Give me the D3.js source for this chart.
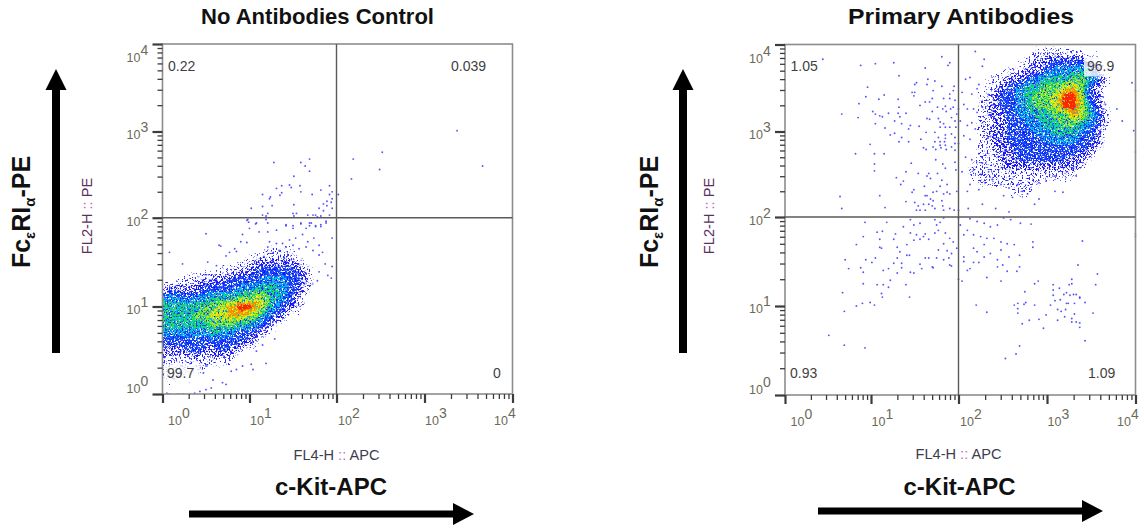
<!DOCTYPE html>
<html>
<head>
<meta charset="utf-8">
<style>
  html, body { margin: 0; background: #fff; }
  text { font-family: "Liberation Sans", Arial, sans-serif; }
</style>
<script src="https://cdn.jsdelivr.net/npm/d3@7"></script>
</head>
<body>
<script>
// density levels, 0 = empty ... 9 = red. Rows go upward, 0.1 decade per cell
const densityLeft = [
  "00000000000000000000",
  "00000000000000000000",
  "11100000000000000000",
  "11111100000000000000",
  "11111111100000000000",
  "22233223210000000000",
  "33333333332100000000",
  "44444454433210000000",
  "55555566655431000000",
  "55556677887643200000",
  "55555667899864321000",
  "44434455566765431000",
  "12222333344555432100",
  "00011222333344433100",
  "00000001122333332100",
  "00000000001222221000",
  "00000000000011110000"
];
const densityRight = [
  "00000000000000000000",
  "00000001100000000000",
  "00011111110000000000",
  "00111111111111000000",
  "00111122222222100000",
  "00011223333332210000",
  "00011223333333321000",
  "00012233334444332000",
  "00012233344555432000",
  "00011233445566543100",
  "00012234455668753100",
  "00012334566799742000",
  "00011334566799732000",
  "00001234556678631000",
  "00001122345556653100",
  "00000011223444542000",
  "00000000122333321000",
  "00000000011111100000"
];

// single events, as log10 of [FL4-H, FL2-H]
const eventsLeft = [
  [3.37,3.01],[3.66,2.60],[2.52,2.76],[2.19,2.68],[2.49,2.56],[2.17,2.45],[1.69,2.68],[1.59,2.64],[1.28,2.64],[1.64,2.60],
  [1.69,2.54],[1.51,2.48],[1.46,2.38],[1.58,2.37],[1.37,2.37],[1.48,2.35],[1.31,2.34],[1.92,2.37],[1.59,2.30],[1.82,2.32],
  [1.95,2.30],[2.02,2.27],[1.37,2.29],[1.35,2.26],[1.15,2.27],[1.24,2.24],[1.23,2.22],[1.72,2.27],[1.92,2.27],[1.95,2.22],
  [1.89,2.19],[1.94,2.18],[1.51,2.15],[1.26,2.14],[1.15,2.13],[1.02,2.11],[1.85,2.16],[1.89,2.14],[1.80,2.11],[1.85,2.08],
  [1.95,2.11],[1.50,2.05],[1.54,2.05],[1.15,2.03],[1.21,2.05],[1.19,2.02],[1.67,2.03],[1.73,2.03],[1.76,2.03],[1.82,2.02],
  [1.92,2.03],[1.51,2.02],[1.78,2.01],[0.97,1.97],[0.99,1.95],[1.07,1.93],[1.21,1.94],[1.69,1.94],[1.88,1.94],[1.59,1.93],
  [1.42,1.91],[1.50,1.91],[1.69,1.91],[1.76,1.91],[1.82,1.90],[0.98,1.98],[1.00,1.88],[0.50,1.82],[0.92,1.81],[1.08,1.94],
  [1.19,1.98],[1.11,1.84],[1.21,1.84],[1.31,1.86],[1.42,1.92],[1.50,1.88],[1.59,1.94],[1.65,1.88],[1.71,1.94],[1.76,1.90],
  [1.82,1.92],[1.88,1.96],[1.95,1.77],[0.90,1.73],[0.97,1.72],[0.65,1.69],[0.67,1.68],[0.83,1.65],[0.77,1.61],[0.85,1.62],
  [0.73,1.57],[0.08,1.61],[0.23,1.48],[0.52,1.50],[0.62,1.46],[1.23,1.73],[1.31,1.71],[1.38,1.71],[1.46,1.75],[1.53,1.77],
  [1.61,1.81],[1.67,1.73],[1.74,1.77],[1.80,1.69],[1.84,1.61],[1.21,1.67],[1.34,1.63],[1.42,1.67],[1.50,1.69],[1.57,1.65],
  [1.65,1.67],[1.73,1.63],[1.80,1.58],[1.87,1.48],[1.95,1.45],[1.90,1.35],[1.94,1.32],[1.80,1.39],[1.78,1.29],[1.19,0.35],
  [1.02,0.34],[1.04,0.28],[0.92,0.32],[0.85,0.28],[0.79,0.26],[0.73,0.11],[0.69,0.13],[0.58,0.16],[0.50,0.05],[0.43,0.03],
  [0.37,0.01],[0.56,0.07],[0.47,0.24],[0.50,0.32],[0.43,0.30],[0.31,0.13],[0.05,0.01],[0.08,0.00],[0.18,0.00],[0.24,0.00],
  [1.29,0.63],[1.15,0.56],[1.08,0.49]
];
const eventsRight = [
  // upper left quadrant
  [0.44,3.83],[0.88,3.76],[1.05,3.78],[1.26,3.79],[1.81,3.86],[1.90,3.79],[1.88,3.76],[1.62,3.73],[1.32,3.64],[0.96,3.51],
  [0.94,3.40],[0.86,3.32],[1.09,3.37],[1.15,3.42],[1.31,3.37],[0.66,3.20],[0.85,3.16],[1.02,3.23],[1.05,3.20],[1.10,3.18],
  [1.13,3.17],[1.20,3.21],[1.32,3.28],[1.31,3.21],[1.33,3.17],[1.40,3.21],[1.27,3.12],[1.05,3.09],[1.16,3.04],[1.35,3.09],
  [1.45,3.07],[1.43,3.03],[1.22,2.96],[1.27,2.98],[1.35,2.93],[1.32,2.88],[1.43,2.88],[0.99,2.85],[0.82,2.74],[1.04,2.74],
  [1.15,2.74],[1.04,2.62],[1.04,2.54],[1.46,2.63],[1.40,2.53],[1.29,2.46],[1.37,2.42],[1.34,2.38],[0.64,2.24],[0.66,2.10],
  [1.10,2.25],[1.16,2.11],[1.40,2.18],[1.47,2.29],[1.49,2.32],
  [1.47,3.45],[1.50,3.45],[1.49,3.41],[1.52,3.56],[1.50,3.54],[1.65,3.60],[1.64,3.54],[1.73,3.58],[1.81,3.52],[1.71,3.47],
  [1.70,3.38],[1.83,3.38],[1.90,3.43],[1.94,3.47],[1.95,3.52],[1.90,3.38],[1.96,3.36],[1.67,3.34],[1.62,3.34],[1.56,3.30],
  [1.76,3.28],[1.70,3.23],[1.82,3.26],[1.85,3.29],[1.86,3.23],[1.91,3.26],[1.94,3.28],[1.98,3.20],[1.64,3.15],[1.67,3.14],
  [1.77,3.15],[1.83,3.09],[1.79,3.11],[1.92,3.16],[1.96,3.12],[1.55,3.06],[1.63,2.99],[1.73,2.99],[1.79,3.05],[1.85,3.05],
  [1.90,3.05],[1.97,3.05],[1.85,2.96],[1.77,2.93],[1.92,2.97],[1.57,2.91],[1.85,2.92],[1.96,2.93],[1.73,2.88],[1.79,2.88],
  [1.84,2.88],[1.79,2.84],[1.85,2.84],[1.96,2.86],[1.71,2.82],[1.60,2.81],[1.63,2.79],[1.74,2.79],[1.80,2.81],[1.86,2.79],
  [1.92,2.82],[1.96,2.78],[1.74,2.67],[1.82,2.62],[1.85,2.57],[1.96,2.64],[1.97,2.55],[1.76,2.51],[1.66,2.51],[1.64,2.48],
  [1.54,2.51],[1.81,2.43],[1.87,2.38],[1.68,2.45],[1.61,2.36],[1.79,2.36],[1.75,2.30],[1.71,2.29],[1.64,2.25],[1.87,2.29],
  [1.90,2.27],[1.83,2.27],[1.98,2.30],[1.50,2.17],[1.54,2.13],[1.62,2.25],[1.68,2.21],[1.71,2.19],[1.81,2.19],[1.60,2.15],
  [1.66,2.15],[1.70,2.13],[1.82,2.13],[1.52,2.08],[1.56,2.08],[1.62,2.08],[1.73,2.10],[1.83,2.08],[1.90,2.10],[1.95,2.08],
  // lower left, around the gate
  [1.45,1.97],[1.56,1.93],[1.73,1.97],[1.79,1.94],[1.75,1.91],[1.83,1.99],[1.49,1.91],[1.62,1.81],[1.52,1.80],[1.60,1.78],
  [1.66,1.75],[1.56,1.75],[1.73,1.82],[1.77,1.85],[1.85,1.82],[1.90,1.76],[1.83,1.70],[1.77,1.63],[1.87,1.62],[1.94,1.72],
  [1.98,1.65],[1.92,1.59],[1.45,1.82],[1.37,1.89],[1.49,1.74],[1.41,1.69],[1.33,1.61],[1.41,1.57],[1.44,1.57],[1.62,1.54],
  [1.66,1.54],[1.75,1.54],[1.83,1.52],[1.89,1.54],[1.56,1.47],[1.58,1.42],[1.70,1.44],[1.71,1.43],[1.90,1.46],[1.92,1.45],
  [1.30,1.54],[1.26,1.48],[1.35,1.48],[1.35,1.43],[1.20,1.42],[1.14,1.40],[1.45,1.38],[1.49,1.37],[1.30,1.37],[1.22,1.29],
  [1.07,1.24],[1.14,1.24],[1.40,1.24],[1.20,1.21],[0.91,1.25],[1.12,1.14],[1.13,1.10],[1.44,1.10],[0.67,1.15],[0.69,0.94],
  [0.74,1.42],[0.70,1.52],[0.88,1.43],[0.91,1.38],[0.83,1.00],[0.90,1.03],[0.99,1.04],[1.04,1.01],[0.51,0.67],[0.69,0.56],
  [0.93,0.53],[0.93,1.94],[1.18,1.94],[1.07,1.83],[1.13,1.84],[0.91,1.78],[1.28,1.81],[1.10,1.75],[1.26,1.75],[0.83,1.69],
  [1.10,1.66],[1.12,1.65],[1.30,1.66],[0.94,1.52],[1.05,1.54],[1.01,1.49],
  // lower right, above the gate edge and the small population
  [2.00,1.99],[2.02,1.91],[2.06,1.80],[2.13,1.98],[2.21,1.95],[2.29,1.93],[2.36,1.89],[2.44,1.91],[2.51,1.99],[2.59,1.97],
  [2.70,1.93],[2.82,1.92],[2.10,1.85],[2.17,1.80],[2.25,1.78],[2.32,1.76],[2.40,1.76],[2.48,1.72],[2.55,1.70],[2.63,1.69],
  [2.84,1.72],[2.84,1.66],[2.17,1.65],[2.29,1.69],[2.21,1.61],[2.06,1.55],[2.36,1.59],[2.48,1.63],[2.57,1.55],[2.69,1.57],
  [2.06,1.50],[2.17,1.49],[2.23,1.49],[2.44,1.52],[2.29,1.55],[2.10,1.40],[2.13,1.42],[2.44,1.44],[2.50,1.46],[2.69,1.44],
  [2.55,1.39],[2.66,1.39],[2.32,1.32],[2.48,1.28],[2.00,1.30],[2.04,1.28],[2.20,1.01],[2.32,0.93],
  [4.00,1.81],[4.00,1.78],[3.40,1.73],[3.35,1.46],[3.57,1.36],[3.55,1.24],[2.86,1.25],[2.90,1.28],[2.75,1.16],[3.07,1.24],
  [3.28,1.30],[3.25,1.24],[3.28,1.25],[3.14,1.20],[3.07,1.18],[3.07,1.12],[3.19,1.13],[3.22,1.15],[3.26,1.12],[3.30,1.13],
  [3.33,1.13],[3.37,1.10],[3.37,1.09],[3.15,1.07],[3.22,1.03],[3.24,1.03],[3.31,1.03],[3.43,1.04],[3.04,1.01],[3.09,1.06],
  [2.63,1.01],[2.67,1.03],[2.76,1.04],[2.74,1.02],[2.86,1.01],[2.67,0.97],[2.67,0.92],[3.52,0.92],[3.12,0.96],[3.16,0.94],
  [3.21,0.96],[2.99,0.90],[3.20,0.88],[3.31,0.91],[2.80,0.84],[2.91,0.85],[3.28,0.86],[3.28,0.82],[3.33,0.82],[3.37,0.81],
  [3.37,0.76],[2.72,0.80],[2.96,0.75],[3.43,0.61],[2.69,0.55],[2.65,0.46],[2.53,0.41],[3.12,0.84],
  // the sparse rim of the main population
  [2.19,3.92],[2.29,3.83],[2.27,3.75],[2.08,3.60],[2.13,3.62],[2.21,3.49],[2.04,3.45],[2.15,3.43],[2.23,3.54],[2.06,3.31],
  [2.10,3.26],[2.17,3.26],[2.21,3.22],[2.27,3.28],[2.00,3.26],[2.02,3.12],[2.10,3.07],[2.15,3.10],[2.06,2.95],[2.13,2.91],
  [2.19,3.03],[2.00,2.86],[2.08,2.70],[2.15,2.67],[2.23,2.74],[2.27,2.63],[2.04,2.53],[2.17,2.55],[2.25,2.50],[2.34,2.53],
  [2.13,2.38],[2.23,2.32],[2.10,2.30],[2.30,2.40],[2.38,2.44],[2.48,2.38],[2.57,2.34],[2.67,2.38],[2.72,2.30],[2.61,2.23],
  [2.51,2.25],[2.91,2.21],[2.86,2.15],[2.00,2.08],[2.11,2.10],[2.27,2.15],[2.42,2.10],[2.57,2.06],[3.09,2.30],[3.18,2.29],
  [3.33,2.48],[2.91,2.40],[2.99,2.42],[2.78,2.27],[3.09,2.48],[3.22,2.53],[3.30,2.57],[3.96,3.56],[4.00,3.47],[3.79,3.26],
  [3.85,3.12],[3.98,3.01],[4.00,2.76],[3.64,3.26],[3.66,3.31],[3.57,2.95],[3.51,2.84]
];

const axisDecades = [1, 10, 100, 1000, 10000];
const axisExponents = [0, 1, 2, 3, 4];
const labelsLeft = ["0.22", "0.039", "99.7", "0"];
const labelsRight = ["1.05", "96.9", "0.93", "1.09"];
const titles = ["No Antibodies Control", "Primary Antibodies"];
const levelColors = ["#2a2aff", "#1212f5", "#0a48f8", "#00bfe0", "#1fe050", "#a8ee10", "#ffe000", "#ff8a00", "#ff2400"];

const svg = d3.select("body").append("svg").attr("width", 1144).attr("height", 529);
const defs = svg.append("defs");

// holes in the levels, so they look like separate dots and not a solid fill
function grainFilter(level, cut, shift) {
  const f = defs.append("filter").attr("id", `grain${level}`)
    .attr("filterUnits", "userSpaceOnUse")
    .attr("x", 0).attr("y", 0).attr("width", 1144).attr("height", 529)
    .attr("color-interpolation-filters", "sRGB");
  f.append("feTurbulence").attr("type", "fractalNoise").attr("baseFrequency", 0.55)
    .attr("numOctaves", 2).attr("seed", level * 3 + 1).attr("result", "noise");
  f.append("feDisplacementMap").attr("in", "SourceGraphic").attr("in2", "noise")
    .attr("scale", shift).attr("xChannelSelector", "R").attr("yChannelSelector", "G").attr("result", "moved");
  f.append("feColorMatrix").attr("in", "noise").attr("type", "matrix")
    .attr("values", `0 0 0 0 0 0 0 0 0 0 0 0 0 0 0 12 0 0 0 ${-12 * cut}`).attr("result", "mask");
  f.append("feComposite").attr("in", "moved").attr("in2", "mask").attr("operator", "in");
}
[[1, 0.56, 16], [2, 0.50, 14], [3, 0.45, 12], [4, 0.47, 9], [5, 0.48, 9],
 [6, 0.47, 8], [7, 0.46, 7], [8, 0.42, 6], [9, 0.3, 5]].forEach(d => grainFilter(...d));

function drawPanel(p) {
  const x = d3.scaleLog().domain(axisDecades).range(p.xStops);
  const y = d3.scaleLog().domain(axisDecades).range(p.yStops);
  const left = x(1), right = x(1e4), top = y(1e4), bottom = y(1);
  const g = svg.append("g");

  defs.append("clipPath").attr("id", p.id).append("rect")
    .attr("x", left).attr("y", top).attr("width", right - left + 1).attr("height", bottom - top);

  // density layers, through d3.contours on the typed grid
  const rows = p.density.length, cols = p.density[0].length;
  const values = p.density.flatMap(r => Array.from(r, Number));
  const toPixels = d3.geoTransform({
    point(gx, gy) {
      this.stream.point(x(10 ** (p.x0 + (gx - 0.5) * 0.1)), y(10 ** (p.y0 + (gy - 0.5) * 0.1)));
    }
  });
  const path = d3.geoPath(toPixels);
  const bands = d3.contours().size([cols, rows]).thresholds(d3.range(0.5, 9, 1))(values);
  g.append("g").attr("clip-path", `url(#${p.id})`)
    .selectAll("g").data(bands).join("g")
    .attr("filter", (_, i) => `url(#grain${i + 1})`)
    .append("path")
    .attr("d", path)
    .attr("fill", (_, i) => levelColors[i]);

  g.append("g").attr("clip-path", `url(#${p.id})`)
    .selectAll("circle").data(p.events).join("circle")
    .attr("cx", d => x(10 ** d[0]))
    .attr("cy", d => y(10 ** d[1]))
    .attr("r", 0.95)
    .attr("fill", "#2a2aff")
    .attr("fill-opacity", 0.8);

  // quadrant gates and frame
  g.append("rect").attr("x", left).attr("y", top).attr("width", right - left).attr("height", bottom - top)
    .attr("fill", "none").attr("stroke", "#8c8c8c").attr("stroke-width", 1.6);
  g.append("line").attr("x1", x(100)).attr("x2", x(100)).attr("y1", top).attr("y2", bottom)
    .attr("stroke", "#5a5a5a").attr("stroke-width", 1.4);
  g.append("line").attr("x1", left).attr("x2", right).attr("y1", y(100)).attr("y2", y(100))
    .attr("stroke", "#5a5a5a").attr("stroke-width", 1.4);

  const isMajor = v => Number.isInteger(Math.log10(v));
  const xAxis = g.append("g").attr("transform", `translate(0,${bottom})`)
    .call(d3.axisBottom(x).tickValues(x.ticks()).tickFormat("").tickSizeOuter(0));
  const yAxis = g.append("g").attr("transform", `translate(${left},0)`)
    .call(d3.axisLeft(y).tickValues(y.ticks()).tickFormat("").tickSizeOuter(0));
  [xAxis, yAxis].forEach(a => {
    a.select(".domain").remove();
    a.selectAll("line").attr("stroke", "#3c3c3c")
      .attr("stroke-width", d => isMajor(d) ? 2.2 : 1.3);
  });
  xAxis.selectAll("line").attr("y2", d => isMajor(d) ? 9 : 5);
  yAxis.selectAll("line").attr("x2", d => isMajor(d) ? -10 : -5);

  // tick labels are not centred on their ticks in the source
  const xShift = [5.5, 0.5, 1.5, 0.5, -18.5];
  const yShift = [-1, 7, 8, 7, 18];
  const tick = g.append("g").attr("fill", "#6b6a58").attr("font-size", 12.5);
  axisExponents.forEach((e, i) => {
    const tx = tick.append("text").attr("x", x(10 ** e) + xShift[i]).attr("y", bottom + 31);
    tx.append("tspan").text("10");
    tx.append("tspan").attr("dy", -7).attr("font-size", 14).text(e);
    const ty = tick.append("text").attr("x", left - 36).attr("y", y(10 ** e) + yShift[i]);
    ty.append("tspan").text("10");
    ty.append("tspan").attr("dy", -7).attr("font-size", 14).text(e);
  });

  // quadrant percentages
  p.labels.forEach((t, i) => {
    const lx = left + p.labelX[i];
    const ly = i < 2 ? 70.5 : 378;
    if (t === p.paleLabel) {
      g.append("rect").attr("x", lx - 3).attr("y", ly - 14).attr("width", 36).attr("height", 20)
        .attr("fill", "#fff").attr("fill-opacity", 0.8);
    }
    g.append("text").attr("x", lx).attr("y", ly)
      .attr("font-size", 14).attr("fill", "#3f3f3f").text(t);
  });

  // FlowJo axis names
  const xName = g.append("text").attr("x", x(100)).attr("y", p.nameY)
    .attr("text-anchor", "middle").attr("font-size", 14.6).attr("fill", "#3d3d50");
  xName.append("tspan").text("FL4-H ");
  xName.append("tspan").attr("fill", "#c070c0").text("::");
  xName.append("tspan").text(" APC");
  const yName = g.append("text").attr("transform", `translate(${left - 71},216) rotate(-90)`)
    .attr("text-anchor", "middle").attr("font-size", 14.6).attr("fill", "#5a3060");
  yName.append("tspan").text("FL2-H ");
  yName.append("tspan").attr("fill", "#c070c0").text("::");
  yName.append("tspan").text(" PE");

  // title and the hand drawn channel labels
  g.append("text").attr("x", p.titleX).attr("y", 24)
    .attr("text-anchor", "middle").attr("font-weight", "bold").attr("font-size", 22)
    .attr("textLength", p.titleWidth).attr("lengthAdjust", "spacingAndGlyphs")
    .attr("fill", "#111").text(p.title);
  g.append("text").attr("x", p.kitX).attr("y", 495)
    .attr("text-anchor", "middle").attr("font-weight", "bold").attr("font-size", 24)
    .attr("fill", "#111").text("c-Kit-APC");
  const fc = g.append("text").attr("transform", `translate(${p.fcX},212) rotate(-90)`)
    .attr("text-anchor", "middle").attr("font-weight", "bold").attr("font-size", 25).attr("fill", "#111");
  fc.append("tspan").text("Fc");
  fc.append("tspan").attr("font-size", 15).attr("dy", 5).text("ε");
  fc.append("tspan").attr("dy", -5).text("RI");
  fc.append("tspan").attr("font-size", 15).attr("dy", 5).text("α");
  fc.append("tspan").attr("dy", -5).text("-PE");

  // black arrows
  const ax = p.arrowX;
  g.append("path").attr("fill", "#000")
    .attr("d", `M${ax - 4},353 V90 H${ax - 10.5} L${ax},69 L${ax + 10.5},90 H${ax + 4} V353 Z`);
  const [bx0, bx1, by] = p.arrowBottom;
  g.append("path").attr("fill", "#000")
    .attr("d", `M${bx0},${by - 3.5} H${bx1 - 21} V${by - 11} L${bx1},${by} L${bx1 - 21},${by + 11} V${by + 3.5} H${bx0} Z`);
}

drawPanel({
  id: "clipLeft", xStops: [162.5, 249.5, 336.5, 424.5, 512.5], yStops: [394, 306.5, 217.7, 131.5, 44],
  density: densityLeft, x0: 0, y0: 0,
  events: eventsLeft, labels: labelsLeft, paleLabel: "99.7", labelX: [5.5, 288.5, 4.5, 330.5],
  title: titles[0], titleX: 317.5, titleWidth: 233, kitX: 331, nameY: 460, fcX: 30, arrowX: 56, arrowBottom: [189, 474, 514]
});
drawPanel({
  id: "clipRight", xStops: [785, 871, 958.5, 1047, 1135.5], yStops: [395, 306, 217, 131.5, 44.5],
  density: densityRight, x0: 2, y0: 2.2,
  events: eventsRight, labels: labelsRight, paleLabel: "96.9", labelX: [5.5, 302, 5, 303],
  title: titles[1], titleX: 961, titleWidth: 226, kitX: 959.5, nameY: 459, fcX: 658, arrowX: 683, arrowBottom: [818, 1103, 511]
});
</script>
</body>
</html>
